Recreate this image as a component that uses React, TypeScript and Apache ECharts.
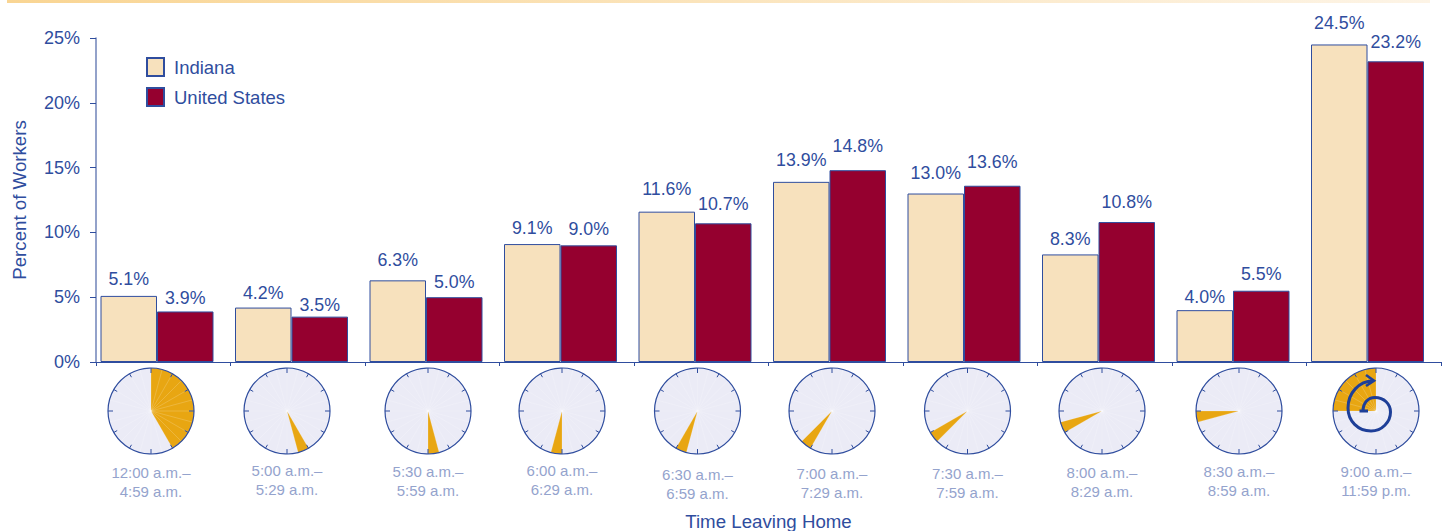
import React, { useEffect, useRef } from "react";
import * as echarts from "echarts";

const categories = ["12:00 a.m.–\n4:59 a.m.", "5:00 a.m.–\n5:29 a.m.", "5:30 a.m.–\n5:59 a.m.", "6:00 a.m.–\n6:29 a.m.", "6:30 a.m.–\n6:59 a.m.", "7:00 a.m.–\n7:29 a.m.", "7:30 a.m.–\n7:59 a.m.", "8:00 a.m.–\n8:29 a.m.", "8:30 a.m.–\n8:59 a.m.", "9:00 a.m.–\n11:59 p.m."];
const indiana = [5.1, 4.2, 6.3, 9.1, 11.6, 13.9, 13.0, 8.3, 4.0, 24.5];
const unitedStates = [3.9, 3.5, 5.0, 9.0, 10.7, 14.8, 13.6, 10.8, 5.5, 23.2];
// clock-face wedge, in degrees clockwise from 12 o'clock
const wedgeStart = [0, 150, 165, 180, 195, 210, 225, 240, 255, 270];
const wedgeEnd = [150, 165, 180, 195, 210, 225, 240, 255, 270, 360];
const clockX = [151, 287, 428, 562, 697.5, 832, 967.5, 1102, 1239, 1376];
const labelY = [472, 470, 471, 470, 474, 473, 473, 472, 471, 471];
// height of each value label's centre above its bar, px
const riseIndiana = [17, 15, 20, 16, 23, 22, 21, 15, 13, 21];
const riseUS = [13, 12, 15, 16, 19, 24, 24, 20, 17, 19];

const NAVY = "#2f4d9e";
const CREAM = "#f7e1bd";
const WINE = "#95002f";
const FONT = "'Liberation Sans', Arial, sans-serif";
const CY = 411;
const R = 43;

echarts.graphic.registerShape(
  "returnArrow",
  echarts.graphic.extendPath(
    "M-16.5,0 H-8 M-13,0 C-13,-8 -8,-13.5 -1,-13.5 C8,-13.5 14.5,-7 14.5,1 C14.5,11 6,20 -5,20 C-18,20 -28,10 -28,-3 C-28,-18 -17,-30 -3,-30",
    {}
  )
);

const rad = (d: number) => ((d - 90) * Math.PI) / 180;

function clock(i: number) {
  const cx = clockX[i];
  const children: any[] = [];
  children.push({ type: "circle", shape: { cx, cy: CY, r: R }, style: { fill: "#ebebf6", stroke: "none" } });
  children.push({
    type: "sector",
    shape: { cx, cy: CY, r: R, r0: 0, startAngle: rad(wedgeStart[i]), endAngle: rad(wedgeEnd[i]), clockwise: true },
    style: { fill: "#e8a612", stroke: "none" },
  });
  for (let d = 0; d < 360; d += 15) {
    const a = rad(d);
    children.push({
      type: "line",
      shape: { x1: cx, y1: CY, x2: cx + R * Math.cos(a), y2: CY + R * Math.sin(a) },
      style: { stroke: "#ffffff", lineWidth: 0.6, opacity: 0.3 },
    });
  }
  children.push({ type: "circle", shape: { cx, cy: CY, r: R }, style: { fill: "none", stroke: NAVY, lineWidth: 1.2 } });
  for (let d = 0; d < 360; d += 30) {
    const a = rad(d);
    const len = d % 90 === 0 ? 5 : 4;
    children.push({
      type: "line",
      shape: {
        x1: cx + R * Math.cos(a),
        y1: CY + R * Math.sin(a),
        x2: cx + (R - len) * Math.cos(a),
        y2: CY + (R - len) * Math.sin(a),
      },
      style: { stroke: NAVY, lineWidth: 1 },
    });
  }
  children.push({
    type: "text",
    x: cx,
    y: labelY[i] - 9,
    style: {
      text: categories[i],
      fill: "#94a3cd",
      font: `15px ${FONT}`,
      align: "center",
      verticalAlign: "top",
      lineHeight: 19,
    },
  });
  return { type: "group", children };
}

const pct = (p: any) => `${p.value.toFixed(1)}%`;

export default function App() {
  const ref = useRef<HTMLDivElement>(null);
  useEffect(() => {
    const chart = echarts.init(ref.current!, undefined, { renderer: "svg" });
    const barSeries = (name: string, data: number[], rise: number[], color: string) => ({
      name,
      type: "bar",
      xAxisIndex: 1,
      yAxisIndex: 1,
      data: data.map((value, i) => ({ value, label: { distance: rise[i] - 9 } })),
      barWidth: 56.5,
      barGap: 0,
      itemStyle: { color, borderColor: NAVY, borderWidth: 1 },
      label: {
        show: true,
        position: "top",
        formatter: pct,
        color: NAVY,
        fontFamily: FONT,
        fontSize: 17.8,
      },
    });
    chart.setOption({
      animation: false,
      backgroundColor: "#ffffff",
      textStyle: { fontFamily: FONT },
      legend: {
        orient: "vertical",
        left: 146,
        top: 57,
        padding: 0,
        itemWidth: 17,
        itemHeight: 18,
        itemGap: 10,
        icon: "rect",
        data: ["Indiana", "United States"],
        textStyle: { color: NAVY, fontSize: 18.5, fontFamily: FONT, padding: [0, 0, 0, 5] },
      },
      grid: [
        { left: 96, top: 38, width: 1345, height: 324, outerBoundsMode: "none" },
        { left: 89.75, top: 38, width: 1345, height: 324, outerBoundsMode: "none" },
      ],
      xAxis: [
        {
          gridIndex: 0,
          type: "category",
          data: categories,
          boundaryGap: true,
          axisLine: { lineStyle: { color: NAVY, width: 1.2 } },
          axisTick: { show: true, alignWithLabel: false, length: 4, lineStyle: { color: NAVY } },
          axisLabel: { show: false },
          name: "Time Leaving Home",
          nameLocation: "middle",
          nameGap: 150,
          nameTextStyle: { color: NAVY, fontSize: 18.7, fontFamily: FONT },
        },
        {
          gridIndex: 1,
          type: "category",
          data: categories,
          axisLine: { show: false },
          axisTick: { show: false },
          axisLabel: { show: false },
        },
      ],
      yAxis: [
        {
          gridIndex: 0,
          type: "value",
          min: 0,
          max: 25,
          interval: 5,
          splitLine: { show: false },
          axisLine: { show: true, lineStyle: { color: "#6f83b8", width: 1.5 } },
          axisTick: { show: true, length: 6, lineStyle: { color: NAVY } },
          axisLabel: { color: NAVY, fontSize: 18, fontFamily: FONT, margin: 16, formatter: "{value}%" },
          name: "Percent of Workers",
          nameLocation: "middle",
          nameGap: 67,
          nameTextStyle: { color: NAVY, fontSize: 18.7, fontFamily: FONT },
        },
        { gridIndex: 1, type: "value", min: 0, max: 25, interval: 5, show: false, splitLine: { show: false } },
      ],
      series: [barSeries("Indiana", indiana, riseIndiana, CREAM), barSeries("United States", unitedStates, riseUS, WINE)],
      graphic: {
        elements: [
          {
            type: "rect",
            shape: { x: 7, y: 0, width: 1423, height: 3 },
            style: {
              fill: new echarts.graphic.LinearGradient(0, 0, 1, 0, [
                { offset: 0, color: "#f9d593" },
                { offset: 1, color: "#fdf4e6" },
              ]),
            },
          },
          ...categories.map((_, i) => clock(i)),
          {
            type: "returnArrow",
            x: clockX[9],
            y: CY,
            style: { fill: "none", stroke: "#1e3f98", lineWidth: 3 },
          },
          {
            type: "polyline",
            shape: { points: [[clockX[9] - 10, CY - 36], [clockX[9] - 2, CY - 30.3], [clockX[9] - 10, CY - 25]] },
            style: { fill: "none", stroke: "#1e3f98", lineWidth: 2.6 },
          },
        ],
      },
    });
    return () => chart.dispose();
  }, []);
  return <div ref={ref} style={{ position: "absolute", left: 0, top: 0, width: 1448, height: 531 }} />;
}
